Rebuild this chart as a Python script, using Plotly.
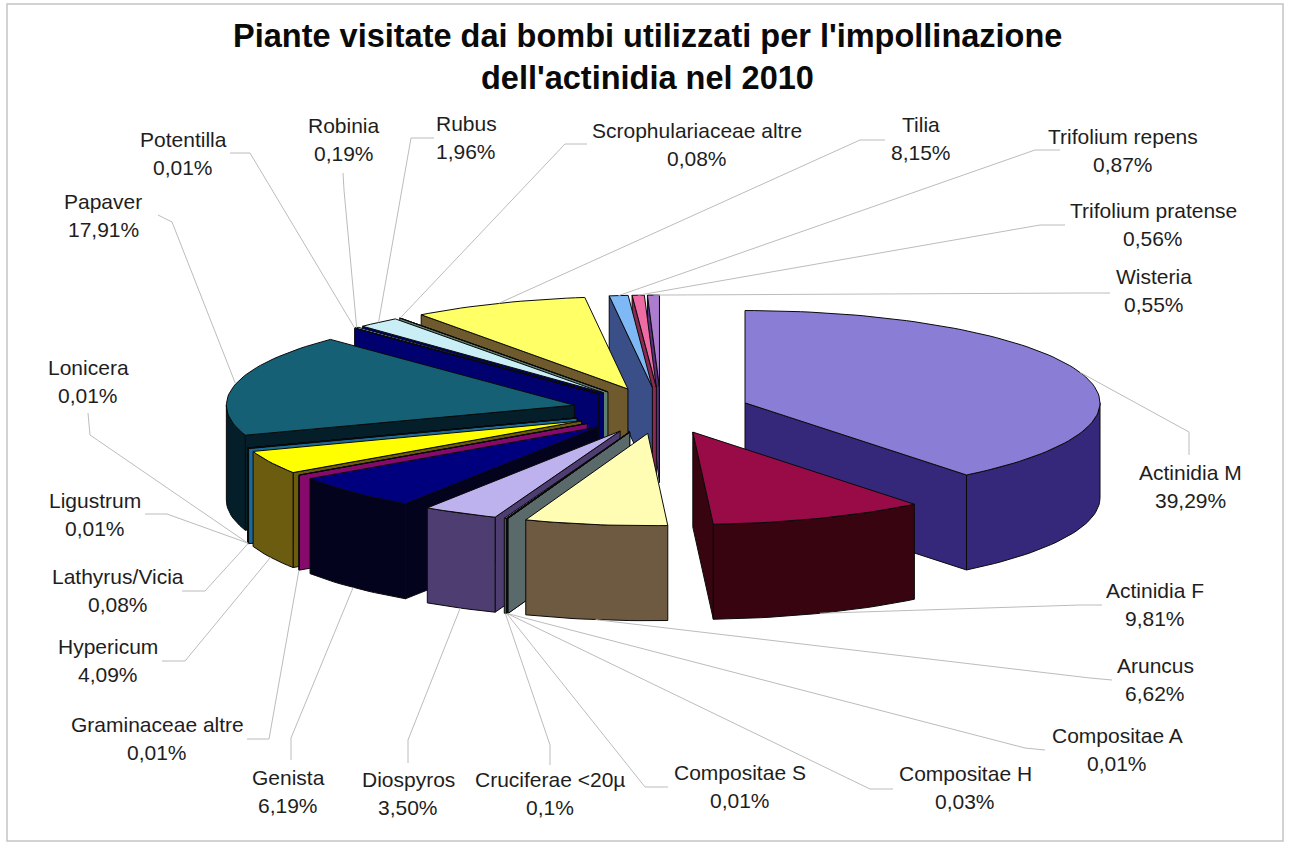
import math
import plotly.graph_objects as go

# Share of visits per plant, clockwise from twelve o'clock
plants = ["Actinidia M", "Actinidia F", "Aruncus", "Compositae A", "Compositae H",
          "Compositae S", "Cruciferae <20µ", "Diospyros", "Genista", "Graminaceae altre",
          "Hypericum", "Lathyrus/Vicia", "Ligustrum", "Lonicera", "Papaver", "Potentilla",
          "Robinia", "Rubus", "Scrophulariaceae altre", "Tilia", "Trifolium repens",
          "Trifolium pratense", "Wisteria"]
shares = [39.29, 9.81, 6.62, 0.01, 0.03, 0.01, 0.1, 3.50, 6.19, 0.01, 4.09, 0.08,
          0.01, 0.01, 17.91, 0.01, 0.19, 1.96, 0.08, 8.15, 0.87, 0.56, 0.55]
share_labels = ["39,29%", "9,81%", "6,62%", "0,01%", "0,03%", "0,01%", "0,1%", "3,50%",
                "6,19%", "0,01%", "4,09%", "0,08%", "0,01%", "0,01%", "17,91%", "0,01%",
                "0,19%", "1,96%", "0,08%", "8,15%", "0,87%", "0,56%", "0,55%"]

top_colors = ["#8A7DD6", "#990B47", "#FFFCB4", "#CCFFFF", "#660066", "#FF8080",
              "#7F93A3", "#BDB1EE", "#00007E", "#FF00FF", "#FFFF00", "#00CCFF",
              "#CCFFFF", "#8AD0A0", "#156074", "#FFFF99", "#99CCFF", "#C9EEF6",
              "#7F9A8C", "#FFFF66", "#7FB9F5", "#EE6BA3", "#AC7CCF"]
side_colors = ["#35287A", "#38040F", "#6E5A40", "#5A6A6A", "#33063A", "#7A3C40",
               "#4E6772", "#4E3D70", "#03031E", "#860A6C", "#6C5C10", "#1C6A98",
               "#5F7A7A", "#2F5A48", "#041F2A", "#00006E", "#00006E", "#00006E",
               "#5F7F70", "#6E5A2C", "#3A4E88", "#8A2A52", "#56307C"]

# Label block centres and leader polylines (text end, elbow) in page pixels
label_xy = [(1190, 472), (1155, 590), (1155, 665), (1117, 735), (965, 773), (740, 772),
            (550, 779), (408, 779), (288, 777), (157, 724), (108, 646), (118, 576),
            (95, 500), (88, 367), (103, 201), (183, 139), (344, 125), (466, 123),
            (697, 130), (921, 124), (1123, 136), (1153, 210), (1154, 276)]
leader_knots = [((1189, 455), (1189, 432)), ((1102, 605), (1080, 605)), ((1112, 680), (1090, 678)),
                ((1045, 750), (1025, 748)), ((893, 789), (870, 789)), ((668, 787), (645, 787)),
                ((550, 765), (550, 745)), ((408, 763), (408, 740)), ((291, 760), (291, 738)),
                ((247, 739), (269, 739)), ((162, 661), (185, 661)), ((182, 591), (205, 591)),
                ((145, 514), (167, 514)), ((88, 413), (90, 435)), ((158, 215), (172, 222)),
                ((230, 153), (250, 153)), ((343, 173), (344, 190)), ((434, 138), (411, 138)),
                ((587, 144), (565, 144)), ((885, 140), (860, 140)), ((1060, 150), (1035, 150)),
                ((1065, 225), (1040, 225)), ((1110, 293), (1085, 293))]

# Pie geometry: oblique view of a cylinder with every slice pulled off its bisector
CX, CY = 661.0, 410.5
RADIUS = 355.0
RADIUS_LEFT = 348.0  # the far half of the view reads slightly narrower
TILT = 0.26
DEPTH = 95.0
PULL = 89.0
OUTLINE = "#0a0a0a"


def on_plane(apex, angle, radius):
    return (apex[0] + radius * math.sin(angle),
            apex[1] - RADIUS * TILT * math.cos(angle))


def arc(apex, a0, a1, radius, step=math.radians(1.5)):
    n = max(1, int(abs(a1 - a0) / step))
    return [on_plane(apex, a0 + (a1 - a0) * i / n, radius) for i in range(n + 1)]


def polygon(points, fill):
    xs = [p[0] for p in points] + [points[0][0]]
    ys = [p[1] for p in points] + [points[0][1]]
    return go.Scatter(x=xs, y=ys, mode="lines", fill="toself", fillcolor=fill,
                      line=dict(color=OUTLINE, width=1), hoverinfo="skip", showlegend=False)


def drop(points):
    return [(x, y + DEPTH) for x, y in points]


total = sum(shares)
slices = []
running = 0.0
for i, share in enumerate(shares):
    a0 = 2 * math.pi * running / total
    running += share
    a1 = 2 * math.pi * running / total
    mid = (a0 + a1) / 2
    apex = (CX + PULL * math.sin(mid), CY - PULL * TILT * math.cos(mid))
    radius = RADIUS if mid < math.pi else RADIUS_LEFT
    slices.append(dict(i=i, a0=a0, a1=a1, mid=mid, apex=apex, radius=radius))

fig = go.Figure()

# Paint from the back of the pie to the front
for s in sorted(slices, key=lambda s: -math.cos(s["mid"])):
    i, a0, a1, apex, radius = s["i"], s["a0"], s["a1"], s["apex"], s["radius"]
    side = side_colors[i]
    if math.sin(a0) < 0:
        edge = [apex, on_plane(apex, a0, radius)]
        fig.add_trace(polygon(edge + drop(edge)[::-1], side))
    if math.sin(a1) > 0:
        edge = [apex, on_plane(apex, a1, radius)]
        fig.add_trace(polygon(edge + drop(edge)[::-1], side))
    lo, hi = max(a0, math.pi / 2), min(a1, 3 * math.pi / 2)
    if hi > lo:
        rim = arc(apex, lo, hi, radius)
        fig.add_trace(polygon(rim + drop(rim)[::-1], side))
    fig.add_trace(polygon([apex] + arc(apex, a0, a1, radius), top_colors[i]))

annotations = []
for s in slices:
    i = s["i"]
    anchor = on_plane(s["apex"], s["mid"], s["radius"])
    if math.cos(s["mid"]) < 0:
        anchor = (anchor[0], anchor[1] + DEPTH)
    start, elbow = leader_knots[i]
    fig.add_trace(go.Scatter(x=[start[0], elbow[0], anchor[0]], y=[start[1], elbow[1], anchor[1]],
                             mode="lines", line=dict(color="#bcbcbc", width=1),
                             hoverinfo="skip", showlegend=False))
    x, y = label_xy[i]
    for text, yy in ((plants[i], y), (share_labels[i], y + 28)):
        annotations.append(dict(x=x, y=yy, text=text, showarrow=False, xanchor="center",
                                yanchor="middle", font=dict(size=21, color="#1e1e1e")))

for text, yy in (("Piante visitate dai bombi utilizzati per l'impollinazione", 36),
                 ("dell'actinidia nel 2010", 78)):
    annotations.append(dict(x=647, y=yy, text="<b>%s</b>" % text, showarrow=False, xanchor="center",
                            yanchor="middle", font=dict(size=32.5, color="#0a0a0a")))

fig.update_layout(
    width=1290, height=843, margin=dict(l=0, r=0, t=0, b=0),
    paper_bgcolor="white", plot_bgcolor="white",
    font=dict(family="Liberation Sans, Arial, sans-serif"),
    xaxis=dict(range=[0, 1290], visible=False, fixedrange=True),
    yaxis=dict(range=[843, 0], visible=False, fixedrange=True),
    annotations=annotations,
    shapes=[dict(type="rect", x0=7, y0=4, x1=1283, y1=841,
                 line=dict(color="#c4c4c4", width=1.5), layer="below")],
)
fig.write_html("out.html")
